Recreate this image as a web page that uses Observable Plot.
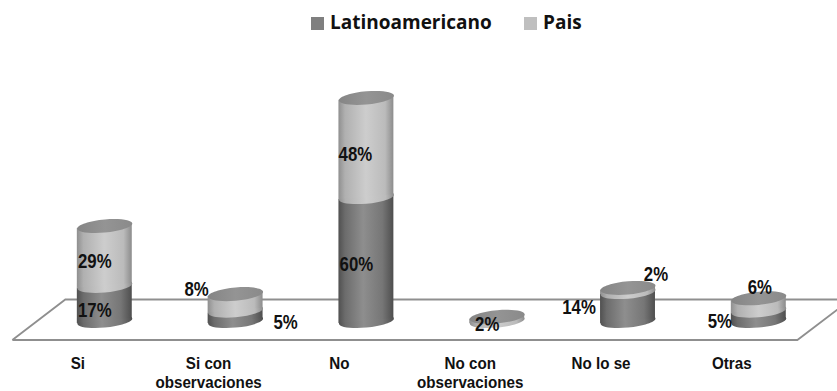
<!DOCTYPE html>
<html>
<head>
<meta charset="utf-8">
<script src="https://cdn.jsdelivr.net/npm/d3@7"></script>
<script src="https://cdn.jsdelivr.net/npm/@observablehq/plot@0.6"></script>
<style>
  html, body { margin: 0; background: #fff; }
  #legend { position: relative; height: 40px; font: bold 19px "Open Sans", sans-serif; color: #111; }
  #legend i { position: absolute; top: 17px; width: 13px; height: 13px; }
  #legend span { position: absolute; top: 9px; line-height: 26px; white-space: nowrap; }
  svg { display: block; overflow: hidden; }
</style>
</head>
<body>
<div id="legend">
  <i style="left:311px;background:#7f7f7f"></i><span style="left:330px">Latinoamericano</span>
  <i style="left:524px;background:#bfbfbf"></i><span style="left:543px">Pais</span>
</div>
<div id="chart"></div>
<script>
// Survey answers, percentage of respondents per group
const categories = ["Si", "Si con observaciones", "No", "No con observaciones", "No lo se", "Otras"];
const latinoamericano = [17, 5, 60, 0, 14, 5];
const pais = [29, 8, 48, 2, 2, 6];

// Hand placement of each value label, relative to the middle of its segment (px)
const latinoLabelOffsets = [[-10, 7], [50, 6], [-10, 5], null, [-49, 1], [-39, 5]];
const paisLabelOffsets = [[-10, 5.5], [-39, -13], [-11, 7], [-10, 5], [28, -16], [1, -17]];

const labelFont = "'Liberation Sans', sans-serif";
const tilt = Math.tan(5 * Math.PI / 180);
const aspect = 0.24;

// Stacked segments, one row per category and group
const lower = categories.map((category, i) => ({
  category, value: latinoamericano[i], y1: 0, y2: latinoamericano[i], offset: latinoLabelOffsets[i]
})).filter(d => d.value > 0);
const upper = categories.map((category, i) => ({
  category, value: pais[i], y1: latinoamericano[i], y2: latinoamericano[i] + pais[i], offset: paisLabelOffsets[i]
})).filter(d => d.value > 0);

// A flattened, slightly tilted disc used as the cylinder's caps
const disc = {
  draw(ctx, size) {
    const r = Math.sqrt(size / Math.PI), k = 0.5523;
    const p = (x, y) => [x * r, (y * aspect - x * tilt) * r];
    ctx.moveTo(...p(1, 0));
    ctx.bezierCurveTo(...p(1, k), ...p(k, 1), ...p(0, 1));
    ctx.bezierCurveTo(...p(-k, 1), ...p(-1, k), ...p(-1, 0));
    ctx.bezierCurveTo(...p(-1, -k), ...p(-k, -1), ...p(0, -1));
    ctx.bezierCurveTo(...p(k, -1), ...p(1, -k), ...p(1, 0));
    ctx.closePath();
  }
};

// Shears every bar around its own axis so its ends meet the tilted discs
function shear(index, scales, values, dimensions, context, next) {
  const g = next(index, scales, values, dimensions, context);
  d3.select(g).selectAll("rect").attr("transform", function () {
    const cx = +this.getAttribute("x") + this.getAttribute("width") / 2;
    return `translate(${cx},0) skewY(-5) translate(${-cx},0)`;
  });
  return g;
}

// Narrows the glyphs of a text mark, standing in for a condensed bold face
const condensed = (ratio) => function (index, scales, values, dimensions, context, next) {
  const g = next(index, scales, values, dimensions, context);
  d3.select(g).selectAll("text").attr("transform", function () {
    return `${this.getAttribute("transform") || ""} scale(${ratio},1)`;
  });
  return g;
};

// Horizontal shading of the cylinder walls
function gradients() {
  const defs = d3.create("svg:defs");
  const add = (id, stops) => {
    const g = defs.append("linearGradient").attr("id", id);
    stops.forEach(([o, c]) => g.append("stop").attr("offset", o).attr("stop-color", c));
  };
  add("wallDark", [[0, "#505050"], [0.12, "#6c6c6c"], [0.45, "#8e8e8e"], [0.8, "#767676"], [1, "#4e4e4e"]]);
  add("wallLight", [[0, "#8f8f8f"], [0.12, "#b0b0b0"], [0.5, "#cdcdcd"], [0.85, "#bbbbbb"], [1, "#8c8c8c"]]);
  add("cap", [[0, "#858585"], [0.5, "#949494"], [1, "#8a8a8a"]]);
  return defs.node();
}

// Floor of the chart: a parallelogram behind and in front of the cylinders
const floorFront = -9.44, floorBack = 10.17;
function floor(index, { x, y }) {
  const left = x(categories[0]), right = x(categories[categories.length - 1]);
  const path = d3.create("svg:path")
    .attr("d", `M${left - 64.5},${y(floorFront)}L${left - 11.5},${y(floorBack)}L${right + 120},${y(floorBack)}` +
      `M${left - 64.5},${y(floorFront)}L${right + 66.5},${y(floorFront)}L${right + 120},${y(floorBack)}`)
    .attr("fill", "none").attr("stroke", "#8f8f8f").attr("stroke-width", 1.8);
  return path.node();
}

const valueLabel = d => Plot.text([d], {
  x: "category",
  y: e => (e.y1 + e.y2) / 2,
  text: e => `${e.value}%`,
  dx: d.offset[0],
  dy: d.offset[1],
  fontFamily: labelFont,
  fontWeight: "bold",
  fontSize: 21,
  fill: "#111",
  render: condensed(0.8)
});

const chart = Plot.plot({
  width: 837,
  height: 351,
  marginTop: 12,
  marginBottom: 70.5,
  marginLeft: 0,
  marginRight: 0,
  x: { domain: categories, paddingInner: 0.58, paddingOuter: 0.4895, align: 0.6, round: false, axis: null },
  y: { domain: [0, 130], axis: null },
  marks: [
    gradients,
    floor,
    Plot.text(categories, {
      x: d => d,
      y: floorFront,
      dx: -27,
      dy: 15,
      lineAnchor: "top",
      fontFamily: labelFont,
      fontWeight: "bold",
      fontSize: 16,
      lineHeight: 1.19,
      lineWidth: 9,
      fill: "#111",
      render: condensed(0.95)
    }),
    Plot.dot(lower, { x: "category", y: "y1", r: 27.5, symbol: disc, fill: "url(#wallDark)" }),
    Plot.barY(lower, { x: "category", y1: "y1", y2: "y2", fill: "url(#wallDark)", render: shear }),
    Plot.dot(upper, { x: "category", y: "y1", r: 27.5, symbol: disc, fill: "url(#wallLight)" }),
    Plot.barY(upper, { x: "category", y1: "y1", y2: "y2", fill: "url(#wallLight)", render: shear }),
    Plot.dot(upper, { x: "category", y: "y2", r: 27.5, symbol: disc, fill: "url(#cap)" }),
    ...lower.map(valueLabel),
    ...upper.map(valueLabel)
  ]
});
document.getElementById("chart").append(chart);
</script>
</body>
</html>
